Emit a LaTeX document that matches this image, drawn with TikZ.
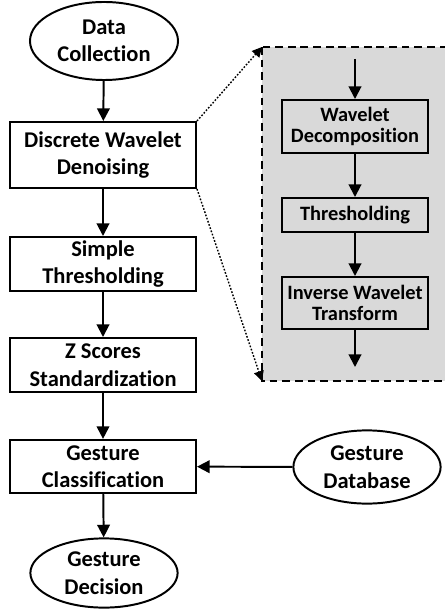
\documentclass[tikz,border=0pt]{standalone}
\usepackage{fontspec}
\setmainfont{Carlito}[Ligatures=NoCommon]
\usetikzlibrary{shapes.geometric,arrows.meta}

\begin{document}
\begin{tikzpicture}[x=0.025cm, y=-0.025cm, font=\bfseries\fontsize{16}{19.5}\selectfont,
    stage/.style={draw, line width=1.4pt, rectangle, align=center, minimum width=4.65cm, inner sep=0pt},
    terminal/.style={draw, line width=1.4pt, ellipse, align=center, inner sep=0pt},
    substage/.style={draw, line width=1.4pt, rectangle, align=center, minimum width=3.65cm, inner sep=0pt,
        font=\bfseries\fontsize{14.5}{15.5}\selectfont},
    flow/.style={line width=1.4pt, -{Triangle[width=9pt,length=9pt]}},
    zoomline/.style={line width=1pt, dash pattern=on 1.2pt off 1.2pt, -{Triangle[width=7pt,length=7pt]}}]
    \useasboundingbox (0, 0) rectangle (445, 609);

    % zoomed view of the denoising step
    \draw[fill=black!15, line width=1.4pt, dash pattern=on 5.5pt off 3.5pt] (262, 47) rectangle (470, 381);
    \coordinate (pin) at (355, 59);
    \coordinate (pout) at (355, 367);
    \coordinate (ptl) at (262, 47);
    \coordinate (pbl) at (262, 381);
    \node[substage, minimum height=1.325cm] (wd) at (355, 126.5) {Wavelet\\Decomposition};
    \node[substage, minimum height=0.85cm] (th) at (355, 215) {Thresholding};
    \node[substage, minimum height=1.3cm] (iwt) at (355, 303) {Inverse Wavelet\\Transform};

    % main pipeline
    \node[terminal, minimum width=3.7cm, minimum height=1.95cm] (dc) at (104, 41) {Data\\Collection};
    \node[stage, minimum height=1.65cm] (dwd) at (103, 155) {Discrete Wavelet\\Denoising};
    \node[stage, minimum height=1.35cm] (st) at (103, 264) {Simple\\Thresholding};
    \node[stage, minimum height=1.35cm] (zs) at (103, 365) {Z Scores\\Standardization};
    \node[stage, minimum height=1.33cm] (gc) at (103, 466.5) {Gesture\\Classification};
    \node[terminal, minimum width=3.68cm, minimum height=1.73cm] (gd) at (104, 573) {Gesture\\Decision};
    \node[terminal, minimum width=3.68cm, minimum height=1.83cm] (gdb) at (367, 467) {Gesture\\Database};

    \draw[flow] (dc) -- (dwd);
    \draw[flow] (dwd) -- (st);
    \draw[flow] (st) -- (zs);
    \draw[flow] (zs) -- (gc);
    \draw[flow] (gc) -- (gd);
    \draw[flow] (gdb) -- (gc);

    \draw[flow] (pin) -- (wd);
    \draw[flow] (wd) -- (th);
    \draw[flow] (th) -- (iwt);
    \draw[flow] (iwt) -- (pout);

    \draw[zoomline] (dwd.north east) -- (ptl);
    \draw[zoomline] (dwd.south east) -- (pbl);
\end{tikzpicture}
\end{document}
